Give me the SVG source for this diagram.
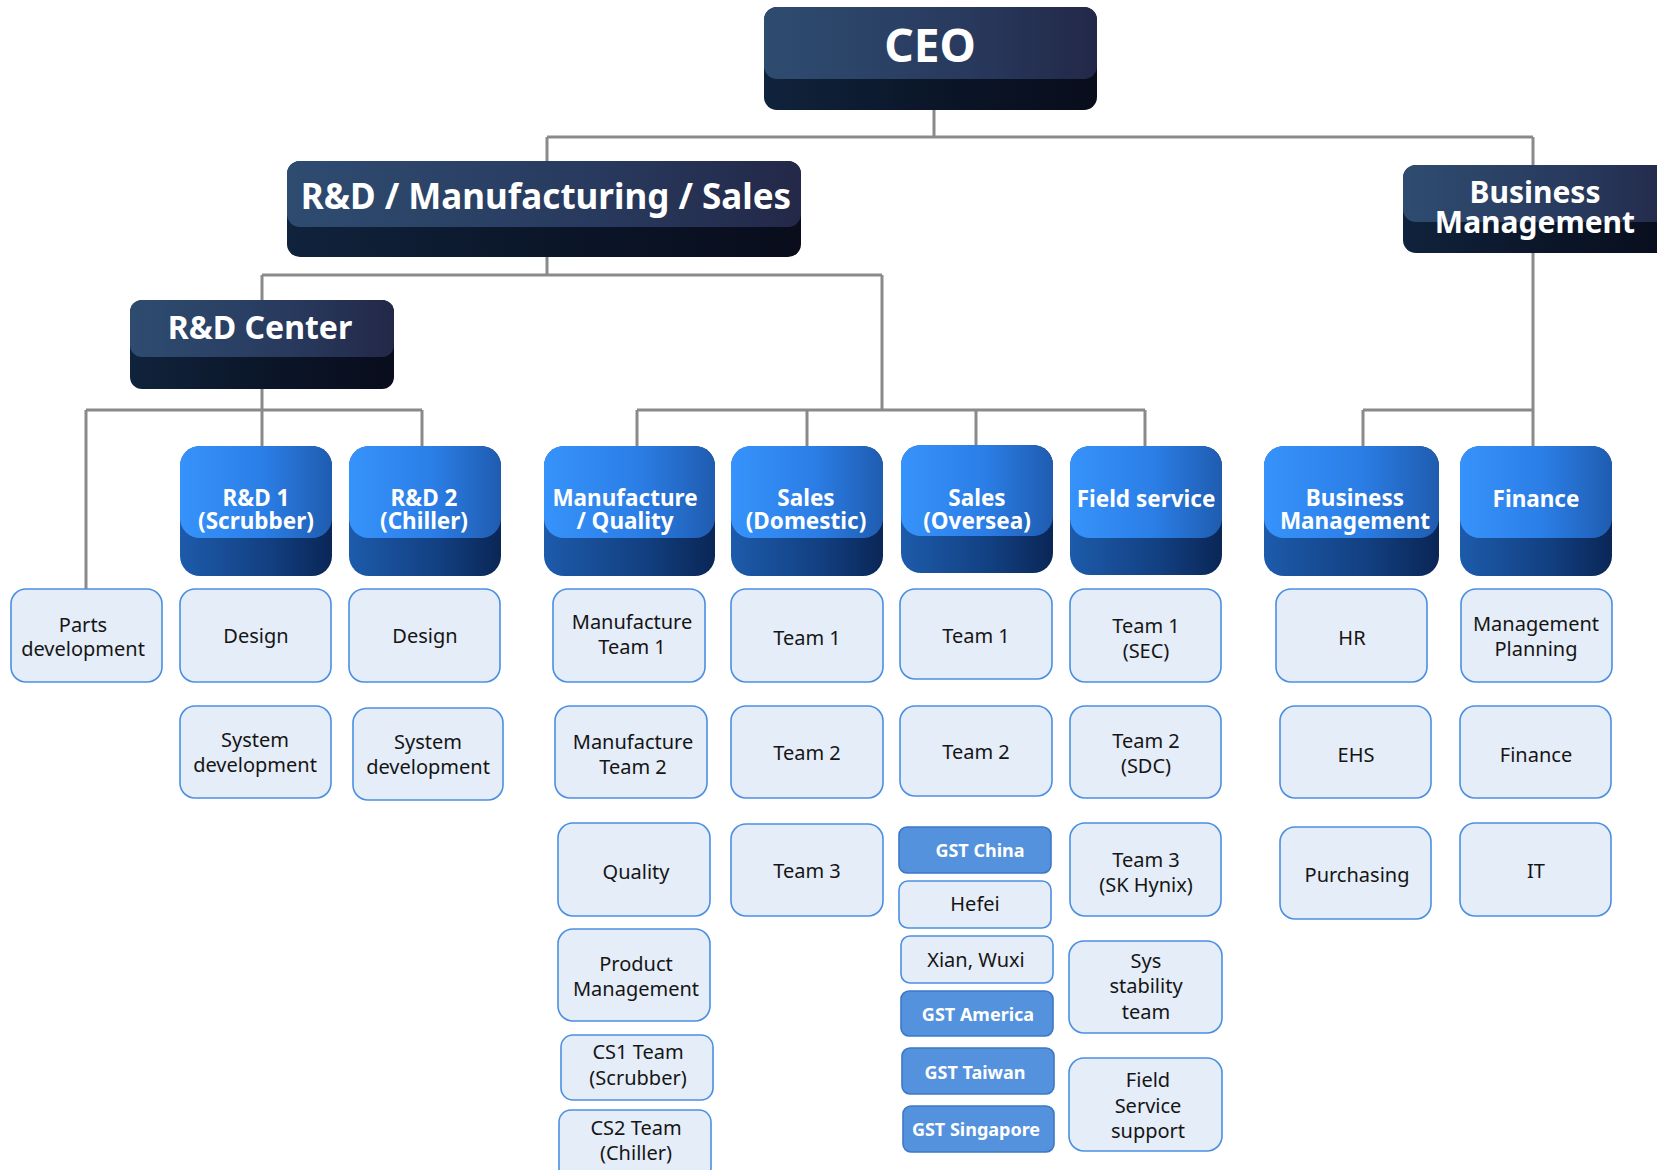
<svg xmlns="http://www.w3.org/2000/svg" width="1657" height="1170" viewBox="0 0 1657 1170">
<defs>
<linearGradient id="dkFace" x1="0" y1="0" x2="1" y2="0"><stop offset="0" stop-color="#2e4c70"/><stop offset="0.6" stop-color="#283a5e"/><stop offset="1" stop-color="#232848"/></linearGradient>
<linearGradient id="dkBand" x1="0" y1="0" x2="1" y2="0"><stop offset="0" stop-color="#10233c"/><stop offset="0.5" stop-color="#0b1629"/><stop offset="1" stop-color="#090d1c"/></linearGradient>
<linearGradient id="blFace" x1="0" y1="0" x2="1" y2="0"><stop offset="0" stop-color="#3693fb"/><stop offset="0.55" stop-color="#2b7ee6"/><stop offset="1" stop-color="#1f5cb0"/></linearGradient>
<linearGradient id="blBand" x1="0" y1="0" x2="1" y2="0"><stop offset="0" stop-color="#1d5bab"/><stop offset="0.6" stop-color="#123f80"/><stop offset="1" stop-color="#0a2656"/></linearGradient>
</defs>
<style>
.conn{fill:none;stroke:#8a8a8a;stroke-width:3}
.lb{fill:#e5edf9;stroke:#4b8fe2;stroke-width:1.6}
.gb{fill:#5592dd;stroke:#3c78c6;stroke-width:1.6}
.lt{font-family:"Noto Sans","Open Sans",sans-serif;font-size:20px;fill:#151515;text-anchor:middle}
.gt{font-family:"Noto Sans","Open Sans",sans-serif;font-size:18px;font-weight:bold;fill:#ffffff;text-anchor:middle}
.bt{font-family:"Noto Sans","Open Sans",sans-serif;font-size:22.5px;font-weight:bold;fill:#ffffff;text-anchor:middle}
.dt{font-family:"Noto Sans","Open Sans",sans-serif;font-weight:bold;fill:#ffffff;text-anchor:middle}
</style>
<rect width="1657" height="1170" fill="#ffffff"/>
<g id="connectors">
<path class="conn" d="M934 110V137M547 137H1533M547 137V161M1533 137V165M547 257V275M262 275H882M262 275V300M882 275V410M262 389V410M86 410H422M86 410V589M262 410V446M422 410V446M637 410H1145M637 410V446M807 410V446M976 410V446M1145 410V446M1533 253V446M1363 410H1533M1363 410V446"/>
</g>
<g id="ceo">
<rect x="764" y="7" width="333" height="103" rx="13" fill="url(#dkBand)"/>
<rect x="764" y="7" width="333" height="72" rx="13" fill="url(#dkFace)"/>
<text class="dt" x="930" y="62" font-size="46">CEO</text>
</g>
<g id="rd-mfg-sales">
<rect x="287" y="161" width="514" height="96" rx="13" fill="url(#dkBand)"/>
<rect x="287" y="161" width="514" height="66" rx="13" fill="url(#dkFace)"/>
<text class="dt" x="546" y="209" font-size="35">R&amp;D / Manufacturing / Sales</text>
</g>
<g id="business-management-top">
<rect x="1403" y="165" width="280" height="88" rx="13" fill="url(#dkBand)"/>
<rect x="1403" y="165" width="280" height="57" rx="13" fill="url(#dkFace)"/>
<text class="dt" x="1535" y="203" font-size="30">Business</text>
<text class="dt" x="1535" y="233" font-size="30">Management</text>
</g>
<g id="rd-center">
<rect x="130" y="300" width="264" height="89" rx="12" fill="url(#dkBand)"/>
<rect x="130" y="300" width="264" height="57" rx="12" fill="url(#dkFace)"/>
<text class="dt" x="260" y="339" font-size="32">R&amp;D Center</text>
</g>
<g id="h-rd1">
<rect x="180" y="446" width="152" height="130" rx="20" fill="url(#blBand)"/>
<rect x="180" y="446" width="152" height="92" rx="20" fill="url(#blFace)"/>
<text class="bt" x="256" y="506">R&amp;D 1</text><text class="bt" x="256" y="529">(Scrubber)</text>
</g>
<g id="h-rd2">
<rect x="349" y="446" width="152" height="130" rx="20" fill="url(#blBand)"/>
<rect x="349" y="446" width="152" height="92" rx="20" fill="url(#blFace)"/>
<text class="bt" x="424" y="506">R&amp;D 2</text><text class="bt" x="424" y="529">(Chiller)</text>
</g>
<g id="h-mq">
<rect x="544" y="446" width="171" height="130" rx="20" fill="url(#blBand)"/>
<rect x="544" y="446" width="171" height="92" rx="20" fill="url(#blFace)"/>
<text class="bt" x="625" y="506">Manufacture</text><text class="bt" x="625" y="529">/ Quality</text>
</g>
<g id="h-sd">
<rect x="731" y="446" width="152" height="130" rx="20" fill="url(#blBand)"/>
<rect x="731" y="446" width="152" height="92" rx="20" fill="url(#blFace)"/>
<text class="bt" x="806" y="506">Sales</text><text class="bt" x="806" y="529">(Domestic)</text>
</g>
<g id="h-so">
<rect x="901" y="445" width="152" height="128" rx="20" fill="url(#blBand)"/>
<rect x="901" y="445" width="152" height="91" rx="20" fill="url(#blFace)"/>
<text class="bt" x="977" y="506">Sales</text><text class="bt" x="977" y="529">(Oversea)</text>
</g>
<g id="h-fs">
<rect x="1070" y="446" width="152" height="129" rx="20" fill="url(#blBand)"/>
<rect x="1070" y="446" width="152" height="92" rx="20" fill="url(#blFace)"/>
<text class="bt" x="1146" y="507">Field service</text>
</g>
<g id="h-bm">
<rect x="1264" y="446" width="175" height="130" rx="20" fill="url(#blBand)"/>
<rect x="1264" y="446" width="175" height="92" rx="20" fill="url(#blFace)"/>
<text class="bt" x="1355" y="506">Business</text><text class="bt" x="1355" y="529">Management</text>
</g>
<g id="h-fin">
<rect x="1460" y="446" width="152" height="130" rx="20" fill="url(#blBand)"/>
<rect x="1460" y="446" width="152" height="92" rx="20" fill="url(#blFace)"/>
<text class="bt" x="1536" y="507">Finance</text>
</g>
<g id="n-parts"><rect class="lb" x="11" y="589" width="151" height="93" rx="15"/><text class="lt" x="83" y="632">Parts</text><text class="lt" x="83" y="656">development</text></g>
<g id="n-rd1-design"><rect class="lb" x="180" y="589" width="151" height="93" rx="15"/><text class="lt" x="256" y="643">Design</text></g>
<g id="n-rd1-sys"><rect class="lb" x="180" y="706" width="151" height="92" rx="15"/><text class="lt" x="255" y="747">System</text><text class="lt" x="255" y="772">development</text></g>
<g id="n-rd2-design"><rect class="lb" x="349" y="589" width="151" height="93" rx="15"/><text class="lt" x="425" y="643">Design</text></g>
<g id="n-rd2-sys"><rect class="lb" x="353" y="708" width="150" height="92" rx="15"/><text class="lt" x="428" y="749">System</text><text class="lt" x="428" y="774">development</text></g>
<g id="n-mfg1"><rect class="lb" x="553" y="589" width="152" height="93" rx="15"/><text class="lt" x="632" y="629">Manufacture</text><text class="lt" x="632" y="654">Team 1</text></g>
<g id="n-mfg2"><rect class="lb" x="555" y="706" width="152" height="92" rx="15"/><text class="lt" x="633" y="749">Manufacture</text><text class="lt" x="633" y="774">Team 2</text></g>
<g id="n-quality"><rect class="lb" x="558" y="823" width="152" height="93" rx="15"/><text class="lt" x="636" y="879">Quality</text></g>
<g id="n-product"><rect class="lb" x="558" y="929" width="152" height="92" rx="15"/><text class="lt" x="636" y="971">Product</text><text class="lt" x="636" y="996">Management</text></g>
<g id="n-cs1"><rect class="lb" x="561" y="1035" width="152" height="65" rx="12"/><text class="lt" x="638" y="1059">CS1 Team</text><text class="lt" x="638" y="1085">(Scrubber)</text></g>
<g id="n-cs2"><rect class="lb" x="559" y="1110" width="152" height="70" rx="12"/><text class="lt" x="636" y="1135">CS2 Team</text><text class="lt" x="636" y="1160">(Chiller)</text></g>
<g id="n-sd-t1"><rect class="lb" x="731" y="589" width="152" height="93" rx="15"/><text class="lt" x="807" y="645">Team 1</text></g>
<g id="n-sd-t2"><rect class="lb" x="731" y="706" width="152" height="92" rx="15"/><text class="lt" x="807" y="760">Team 2</text></g>
<g id="n-sd-t3"><rect class="lb" x="731" y="824" width="152" height="92" rx="15"/><text class="lt" x="807" y="878">Team 3</text></g>
<g id="n-so-t1"><rect class="lb" x="900" y="589" width="152" height="90" rx="15"/><text class="lt" x="976" y="643">Team 1</text></g>
<g id="n-so-t2"><rect class="lb" x="900" y="706" width="152" height="90" rx="15"/><text class="lt" x="976" y="759">Team 2</text></g>
<g id="n-gst-china"><rect class="gb" x="899" y="827" width="152" height="46" rx="8"/><text class="gt" x="980" y="857">GST China</text></g>
<g id="n-hefei"><rect class="lb" x="899" y="881" width="152" height="47" rx="9"/><text class="lt" x="975" y="911">Hefei</text></g>
<g id="n-xian"><rect class="lb" x="901" y="936" width="152" height="47" rx="9"/><text class="lt" x="976" y="967">Xian, Wuxi</text></g>
<g id="n-gst-america"><rect class="gb" x="901" y="991" width="152" height="45" rx="8"/><text class="gt" x="978" y="1021">GST America</text></g>
<g id="n-gst-taiwan"><rect class="gb" x="902" y="1048" width="152" height="46" rx="8"/><text class="gt" x="975" y="1079">GST Taiwan</text></g>
<g id="n-gst-singapore"><rect class="gb" x="903" y="1106" width="151" height="46" rx="8"/><text class="gt" x="976" y="1136" font-size="17">GST Singapore</text></g>
<g id="n-fs-t1"><rect class="lb" x="1070" y="589" width="151" height="93" rx="15"/><text class="lt" x="1146" y="633">Team 1</text><text class="lt" x="1146" y="658">(SEC)</text></g>
<g id="n-fs-t2"><rect class="lb" x="1070" y="706" width="151" height="92" rx="15"/><text class="lt" x="1146" y="748">Team 2</text><text class="lt" x="1146" y="773">(SDC)</text></g>
<g id="n-fs-t3"><rect class="lb" x="1070" y="823" width="151" height="93" rx="15"/><text class="lt" x="1146" y="867">Team 3</text><text class="lt" x="1146" y="892">(SK Hynix)</text></g>
<g id="n-sys-stab"><rect class="lb" x="1069" y="941" width="153" height="92" rx="15"/><text class="lt" x="1146" y="968">Sys</text><text class="lt" x="1146" y="993">stability</text><text class="lt" x="1146" y="1019">team</text></g>
<g id="n-fs-support"><rect class="lb" x="1069" y="1058" width="153" height="93" rx="15"/><text class="lt" x="1148" y="1087">Field</text><text class="lt" x="1148" y="1113">Service</text><text class="lt" x="1148" y="1138">support</text></g>
<g id="n-hr"><rect class="lb" x="1276" y="589" width="151" height="93" rx="15"/><text class="lt" x="1352" y="645">HR</text></g>
<g id="n-ehs"><rect class="lb" x="1280" y="706" width="151" height="92" rx="15"/><text class="lt" x="1356" y="762">EHS</text></g>
<g id="n-purchasing"><rect class="lb" x="1280" y="827" width="151" height="92" rx="15"/><text class="lt" x="1357" y="882">Purchasing</text></g>
<g id="n-mgmt-planning"><rect class="lb" x="1461" y="589" width="151" height="93" rx="15"/><text class="lt" x="1536" y="631">Management</text><text class="lt" x="1536" y="656">Planning</text></g>
<g id="n-finance"><rect class="lb" x="1460" y="706" width="151" height="92" rx="15"/><text class="lt" x="1536" y="762">Finance</text></g>
<g id="n-it"><rect class="lb" x="1460" y="823" width="151" height="93" rx="15"/><text class="lt" x="1536" y="878">IT</text></g>
</svg>
